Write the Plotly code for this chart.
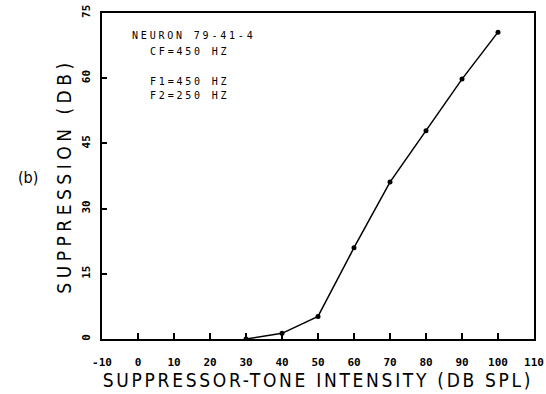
import plotly.graph_objects as go

# Suppression vs suppressor-tone intensity, neuron 79-41-4
intensity_db_spl = [30, 40, 50, 60, 70, 80, 90, 100]
suppression_db = [0.0, 1.3, 5.2, 21.0, 36.1, 47.9, 59.8, 70.6]

x_ticks = [-10, 0, 10, 20, 30, 40, 50, 60, 70, 80, 90, 100, 110]
y_ticks = [0, 15, 30, 45, 60, 75]

info_lines = ["NEURON 79-41-4", "CF=450 HZ", "", "F1=450 HZ", "F2=250 HZ"]

mono = "DejaVu Sans Mono"
narrow = "DejaVu Sans Condensed, Liberation Sans Narrow, DejaVu Sans"

W, H = 546, 394
ML, MR, MT, MB = 102, 12, 13, 55
PW, PH = W - ML - MR, H - MT - MB


def spaced(text, px):
    return f'<span style="letter-spacing:{px}px">{text}</span>'


def px_to_paper(x, y):
    return (x - ML) / PW, 1 - (y - MT) / PH


fig = go.Figure()
fig.add_trace(go.Scatter(
    x=intensity_db_spl, y=suppression_db,
    mode="lines+markers",
    line=dict(color="black", width=1.5),
    marker=dict(color="black", size=5),
    showlegend=False,
))

fig.update_layout(
    width=W, height=H,
    margin=dict(l=ML, r=MR, t=MT, b=MB),
    paper_bgcolor="white", plot_bgcolor="white",
    font=dict(family=mono, color="black"),
)

fig.update_xaxes(
    range=[-10, 110], tickvals=x_ticks, ticktext=[str(v) for v in x_ticks],
    ticks="inside", ticklen=6, tickwidth=1.5, tickcolor="black",
    showline=True, linecolor="black", linewidth=2, mirror=True,
    showgrid=False, zeroline=False, automargin=False,
    ticklabelstandoff=12,
    tickfont=dict(family=mono, size=11, weight="bold"),
    title=dict(text=spaced("SUPPRESSOR-TONE INTENSITY (DB SPL)", 2.7),
               font=dict(family=narrow, size=19), standoff=0),
)
fig.update_yaxes(
    range=[0, 75], tickvals=y_ticks, ticktext=[str(v) for v in y_ticks],
    ticks="inside", ticklen=5, tickwidth=1.5, tickcolor="black",
    showline=True, linecolor="black", linewidth=2, mirror=True,
    showgrid=False, zeroline=False, tickangle=-90, automargin=False,
    ticklabelstandoff=6,
    tickfont=dict(family=mono, size=11, weight="bold"),
    title=dict(text=spaced("SUPPRESSION (DB)", 4.5),
               font=dict(family=narrow, size=19), standoff=3),
)

annotations = []
line_y = [35, 51, 66, 81, 95]
for i, line in enumerate(info_lines):
    if not line:
        continue
    ax, ay = px_to_paper(130 if i == 0 else 148, line_y[i])
    annotations.append(dict(
        text=spaced(line, 2.8), xref="paper", yref="paper",
        x=ax, y=ay, xanchor="left", yanchor="middle", showarrow=False,
        font=dict(family=mono, size=10),
    ))
bx, by = px_to_paper(28, 177)
annotations.append(dict(
    text="(b)", xref="paper", yref="paper", x=bx, y=by,
    xanchor="center", yanchor="middle", showarrow=False,
    font=dict(family=narrow, size=16),
))
fig.update_layout(annotations=annotations)

fig.write_html("out.html")
